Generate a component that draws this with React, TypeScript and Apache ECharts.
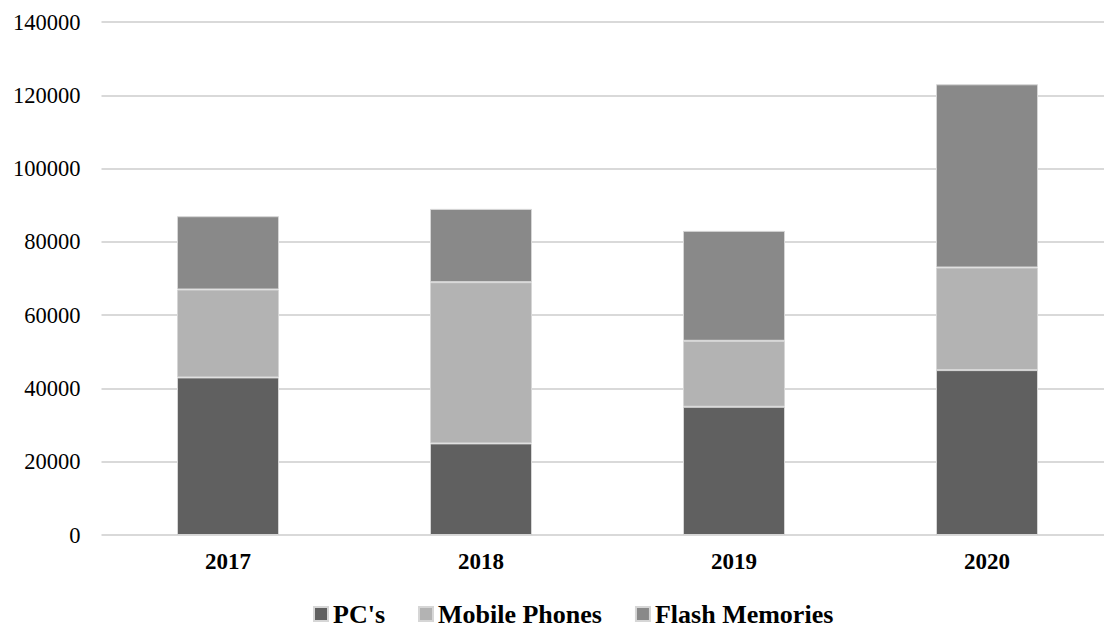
import React, { useEffect, useRef } from "react";
import * as echarts from "echarts";

const years = ["2017", "2018", "2019", "2020"];
const pcs = [43000, 25000, 35000, 45000];
const mobilePhones = [24000, 44000, 18000, 28000];
const flashMemories = [20000, 20000, 30000, 50000];
const seriesNames = ["PC's", "Mobile Phones", "Flash Memories"];
const colors = ["#606060", "#b3b3b3", "#898989"];

export default function App() {
  const ref = useRef<HTMLDivElement>(null);
  useEffect(() => {
    if (!ref.current) return;
    const chart = echarts.init(ref.current, null, { renderer: "svg" });
    const font = "'Liberation Serif', 'Times New Roman', serif";
    const datasets = [pcs, mobilePhones, flashMemories];
    chart.setOption({
      animation: false,
      grid: { left: 101.5, width: 1012, top: 22, bottom: 92, containLabel: false },
      legend: {
        left: 308,
        top: 596,
        itemWidth: 14,
        itemHeight: 14,
        itemGap: 33,
        icon: "rect",
        textStyle: { fontFamily: font, fontWeight: "bold", fontSize: 26, color: "#000" },
        data: seriesNames,
      },
      xAxis: {
        type: "category",
        data: years,
        axisLine: { show: false },
        axisTick: { show: false },
        axisLabel: { fontFamily: font, fontWeight: "bold", fontSize: 23, color: "#000", margin: 15 },
      },
      yAxis: {
        type: "value",
        min: 0,
        max: 140000,
        interval: 20000,
        axisLine: { show: false },
        axisTick: { show: false },
        splitLine: { lineStyle: { color: "#d9d9d9", width: 2 } },
        axisLabel: {
          fontFamily: font,
          fontSize: 22.5,
          color: "#000",
          margin: 21,
          formatter: (v: number) => String(v),
        },
      },
      series: datasets.map((d, i) => ({
        name: seriesNames[i],
        type: "bar",
        stack: "total",
        data: d,
        barWidth: 102,
        itemStyle: { color: colors[i], borderColor: "#d6d6d6", borderWidth: 1 },
      })),
    });
    return () => chart.dispose();
  }, []);
  return (
    <div style={{ position: "fixed", left: 0, top: 0, width: 1104, height: 627, overflow: "hidden", background: "#fff" }}>
      <div ref={ref} style={{ width: 1124, height: 627 }} />
    </div>
  );
}
